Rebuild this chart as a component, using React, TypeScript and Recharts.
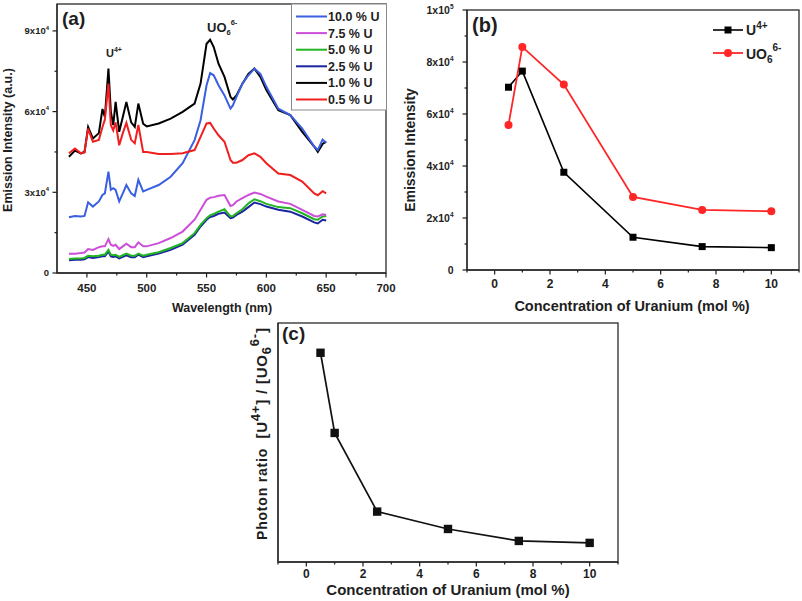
import React from "react";
import { LineChart, Line, XAxis, YAxis } from "recharts";

const FONT = '"Liberation Sans", Arial, Helvetica, sans-serif';
const INK = "#1e1e1e";
const frameLine = { stroke: "#2a2a2a", strokeWidth: 1.3 };

// ---- (a) emission spectra ----
const wavelength = [
  435, 440, 445, 448, 451, 455, 460, 463, 465, 468, 470, 472, 474, 477, 480, 483, 487, 490, 493, 497,
  500, 510, 520, 530, 540, 545, 550, 553, 556, 560, 565, 570, 572, 575, 580, 585, 590, 595, 600, 610,
  620, 630, 640, 643, 647, 650,
];
const u10 = [
  20700, 21200, 21000, 21200, 26300, 24700, 26600, 29000, 29600, 37700, 30900, 31500, 30900, 26600, 29600, 32700, 29600, 28600, 34600, 30300,
  30900, 32700, 35800, 40800, 49400, 56800, 69800, 74300, 73500, 69800, 66000, 61100, 62300, 65500, 70400, 73500, 76000, 74000, 69200, 61100,
  58700, 53700, 47000, 45700, 49600, 48400,
];
const u75 = [
  7200, 7200, 7400, 7600, 8900, 8600, 9600, 9900, 9900, 12600, 10500, 10100, 10500, 8900, 9900, 10900, 9600, 9600, 11400, 9900,
  9900, 11100, 13000, 15400, 19800, 23500, 27200, 28000, 28200, 28700, 29000, 24900, 25200, 26600, 27800, 29000, 29900, 29400, 28400, 26600,
  25700, 23500, 21200, 21000, 21800, 21600,
];
const u50 = [
  5200, 5400, 5400, 5600, 6400, 6200, 6400, 6800, 6800, 8600, 6800, 6600, 6800, 6000, 6600, 7200, 6400, 6400, 7200, 6400,
  6800, 7700, 9300, 11100, 14800, 17900, 20400, 21400, 22000, 22800, 23700, 21000, 21200, 22200, 23700, 25900, 27400, 26700, 25700, 24500,
  24100, 22200, 20000, 19800, 21000, 21200,
];
const u25 = [
  4700, 4900, 4900, 5100, 5900, 5600, 5900, 6200, 6200, 8000, 6200, 6000, 6200, 5400, 6000, 6600, 5900, 5900, 6800, 5900,
  6200, 7200, 8600, 10500, 14200, 17300, 19800, 20800, 21200, 22000, 22500, 20400, 20600, 21600, 22800, 24500, 26200, 25600, 24700, 23500,
  22800, 21000, 18800, 18400, 19800, 19500,
];
const u1 = [
  43200, 45500, 44500, 45000, 54300, 50000, 52000, 61000, 58000, 76000, 60000, 55000, 63600, 52500, 58000, 63600, 56000, 54300, 63000, 55500,
  54500, 55600, 57400, 59900, 63000, 70400, 85200, 86700, 84000, 77800, 72900, 65500, 64500, 66000, 70400, 74000, 76000, 72900, 68000, 60500,
  58700, 52500, 47000, 45000, 48000, 48800,
];
const u05 = [
  44500, 46300, 44500, 44800, 53700, 48800, 49500, 54300, 57000, 70400, 55000, 53000, 56000, 47500, 52000, 55800, 49500, 48200, 55000, 45000,
  45000, 44200, 44200, 44500, 45700, 50600, 55600, 55800, 53700, 51200, 48800, 42000, 41000, 41000, 42000, 43800, 44500, 43200, 40800, 37000,
  36400, 34000, 29600, 28900, 30400, 29600,
];

const spectraSeries = [
  { key: "u10", label: "10.0 % U", color: "#3a5fe0", values: u10 },
  { key: "u75", label: "7.5 % U", color: "#cc4fd8", values: u75 },
  { key: "u50", label: "5.0 % U", color: "#22b422", values: u50 },
  { key: "u25", label: "2.5 % U", color: "#1c25a0", values: u25 },
  { key: "u1", label: "1.0 % U", color: "#000000", values: u1 },
  { key: "u05", label: "0.5 % U", color: "#f01e1e", values: u05 },
];
const drawOrder = ["u25", "u50", "u75", "u1", "u10", "u05"];

const spectraData = wavelength.map((wl, i) => {
  const row: Record<string, number> = { wl };
  spectraSeries.forEach((s) => (row[s.key] = s.values[i]));
  return row;
});

const waveTicks = [450, 475, 500, 525, 550, 575, 600, 625, 650, 675, 700];
const spectraYTicks = [0, 15000, 30000, 45000, 60000, 75000, 90000];

// ---- (b) intensity vs concentration ----
const concentration = [0.5, 1, 2.5, 5, 7.5, 10];
const u4Intensity = [70300, 76500, 37600, 12600, 9000, 8600];
const uo6Intensity = [55800, 85800, 71300, 28100, 23100, 22600];
const intensityData = concentration.map((c, i) => ({ c, u4: u4Intensity[i], uo6: uo6Intensity[i] }));
const concTicks = [-1, 0, 1, 2, 3, 4, 5, 6, 7, 8, 9, 10, 11];
const intensityTicks = [0, 10000, 20000, 30000, 40000, 50000, 60000, 70000, 80000, 90000, 100000];

// ---- (c) photon ratio ----
const photonRatio = [1.253, 0.884, 0.522, 0.442, 0.387, 0.378];
const ratioData = concentration.map((c, i) => ({ c, r: photonRatio[i] }));

function sciParts(v: number) {
  if (v === 0) return { base: "0", exp: "" };
  const exp = Math.floor(Math.log10(v) + 1e-9);
  const mant = Math.round(v / Math.pow(10, exp));
  return { base: `${mant}x10`, exp: String(exp) };
}

const makeXTick = (isMajor: (v: number) => boolean, labelDy: number, fs: number) => (props: any) => {
  const { x, y, payload } = props;
  const v = payload.value as number;
  const major = isMajor(v);
  return (
    <g>
      <line x1={x} y1={y} x2={x} y2={y + (major ? 4.5 : 2.5)} stroke={INK} strokeWidth={1.2} />
      {major && (
        <text x={x} y={y + labelDy} textAnchor="middle" fontSize={fs} fontWeight="bold" fill={INK} fontFamily={FONT}>
          {v}
        </text>
      )}
    </g>
  );
};

const makeYTick = (isMajor: (v: number) => boolean, gap: number, fs: number) => (props: any) => {
  const { x, y, payload } = props;
  const v = payload.value as number;
  const major = isMajor(v);
  const p = sciParts(v);
  return (
    <g>
      <line x1={x - (major ? 4.5 : 2.5)} y1={y} x2={x} y2={y} stroke={INK} strokeWidth={1.2} />
      {major && (
        <text x={x - gap} y={y + fs * 0.36} textAnchor="end" fontSize={fs} fontWeight="bold" fill={INK} fontFamily={FONT}>
          {p.base}
          {p.exp && (
            <tspan fontSize={fs * 0.62} dy={-fs * 0.5}>
              {p.exp}
            </tspan>
          )}
        </text>
      )}
    </g>
  );
};

const txt = { fontFamily: FONT, fontWeight: "bold" as const, fill: INK };

function ChartA() {
  return (
    <LineChart width={400} height={320} data={spectraData} margin={{ top: 4, right: 14, bottom: 0, left: 0 }}>
      <XAxis
        dataKey="wl"
        type="number"
        domain={[425, 700]}
        ticks={waveTicks}
        interval={0}
        tickSize={0}
        tickMargin={0}
        tickLine={false}
        height={47}
        axisLine={frameLine}
        tick={makeXTick((v) => v % 50 === 0, 18.5, 11.5)}
      />
      <YAxis
        type="number"
        domain={[0, 100000]}
        ticks={spectraYTicks}
        interval={0}
        width={57}
        tickSize={0}
        tickMargin={0}
        tickLine={false}
        axisLine={frameLine}
        tick={makeYTick((v) => v % 30000 === 0, 8, 9.5)}
      />
      <rect x={57} y={4} width={329} height={269} fill="none" stroke="#2a2a2a" strokeWidth={1.3} />
      {drawOrder.map((k) => {
        const s = spectraSeries.find((q) => q.key === k)!;
        return (
          <Line key={k} dataKey={k} type="linear" stroke={s.color} strokeWidth={2} dot={false} isAnimationActive={false} />
        );
      })}
      <text x={62} y={25} fontSize={19} {...txt}>(a)</text>
      <text x={106} y={57} fontSize={11} {...txt}>
        U<tspan fontSize={7} dy={-5}>4+</tspan>
      </text>
      <text x={207} y={32} fontSize={13} {...txt}>
        UO<tspan fontSize={7.5} dy={3}>6</tspan>
        <tspan fontSize={7.5} dy={-10}>6-</tspan>
      </text>
      <text x={12} y={140} transform="rotate(-90, 12, 140)" textAnchor="middle" fontSize={12.5} {...txt}>
        Emission Intensity (a.u.)
      </text>
      <text x={222} y={312} textAnchor="middle" fontSize={12.5} {...txt}>
        Wavelength (nm)
      </text>
      <rect x={291.5} y={4} width={95} height={106} fill="#fff" stroke="#8a8a8a" strokeWidth={1} />
      {spectraSeries.map((s, i) => {
        const cy = 16.5 + i * 16.6;
        return (
          <g key={s.key}>
            <line x1={296} y1={cy} x2={327} y2={cy} stroke={s.color} strokeWidth={2} />
            <text x={328} y={cy + 4.5} fontSize={12.5} {...txt}>
              {s.label}
            </text>
          </g>
        );
      })}
    </LineChart>
  );
}

function ChartB() {
  return (
    <LineChart width={402} height={320} data={intensityData} margin={{ top: 10, right: 3, bottom: 0, left: 0 }}>
      <XAxis
        dataKey="c"
        type="number"
        domain={[-1, 11]}
        ticks={concTicks}
        interval={0}
        tickSize={0}
        tickMargin={0}
        tickLine={false}
        height={50}
        axisLine={frameLine}
        tick={makeXTick((v) => v % 2 === 0 && v >= 0, 18, 12)}
      />
      <YAxis
        type="number"
        domain={[0, 100000]}
        ticks={intensityTicks}
        interval={0}
        width={67}
        tickSize={0}
        tickMargin={0}
        tickLine={false}
        axisLine={frameLine}
        tick={makeYTick((v) => v % 20000 === 0, 13.5, 10.5)}
      />
      <rect x={67} y={10} width={332} height={260} fill="none" stroke="#2a2a2a" strokeWidth={1.3} />
      <Line
        dataKey="u4"
        type="linear"
        stroke="#000"
        strokeWidth={1.6}
        isAnimationActive={false}
        dot={(p: any) => <rect key={`u4-${p.index}`} x={p.cx - 3.5} y={p.cy - 3.5} width={7} height={7} fill="#000" />}
      />
      <Line
        dataKey="uo6"
        type="linear"
        stroke="#ff2626"
        strokeWidth={1.8}
        isAnimationActive={false}
        dot={(p: any) => <circle key={`uo6-${p.index}`} cx={p.cx} cy={p.cy} r={4} fill="#ff2626" />}
      />
      <text x={72} y={32} fontSize={20} {...txt}>(b)</text>
      <line x1={313} y1={30} x2={343} y2={30} stroke="#000" strokeWidth={1.6} />
      <rect x={324.5} y={26.5} width={7} height={7} fill="#000" />
      <text x={346} y={35} fontSize={14} {...txt}>
        U<tspan fontSize={10} dy={-6}>4+</tspan>
      </text>
      <line x1={313} y1={53} x2={343} y2={53} stroke="#ff2626" strokeWidth={1.8} />
      <circle cx={328} cy={53} r={4} fill="#ff2626" />
      <text x={346} y={59} fontSize={14} {...txt}>
        UO<tspan fontSize={10} dy={4}>6</tspan>
        <tspan fontSize={10} dy={-12}>6-</tspan>
      </text>
      <text x={15} y={150} transform="rotate(-90, 15, 150)" textAnchor="middle" fontSize={14} {...txt}>
        Emission Intensity
      </text>
      <text x={232} y={311} textAnchor="middle" fontSize={14.5} {...txt}>
        Concentration of Uranium (mol %)
      </text>
    </LineChart>
  );
}

function ChartC() {
  return (
    <LineChart width={450} height={301} data={ratioData} margin={{ top: 23, right: 12, bottom: 0, left: 0 }}>
      <XAxis
        dataKey="c"
        type="number"
        domain={[-1, 11]}
        ticks={concTicks}
        interval={0}
        tickSize={0}
        tickMargin={0}
        tickLine={false}
        height={39}
        axisLine={frameLine}
        tick={makeXTick((v) => v % 2 === 0 && v >= 0, 15.5, 12)}
      />
      <YAxis type="number" domain={[0.29, 1.39]} width={98} tick={false} tickLine={false} axisLine={frameLine} />
      <rect x={98} y={23} width={340} height={239} fill="none" stroke="#2a2a2a" strokeWidth={1.3} />
      <Line
        dataKey="r"
        type="linear"
        stroke="#111"
        strokeWidth={1.7}
        isAnimationActive={false}
        dot={(p: any) => <rect key={`r-${p.index}`} x={p.cx - 4.2} y={p.cy - 4.2} width={8.4} height={8.4} fill="#111" />}
      />
      <text x={102} y={40} fontSize={19} {...txt}>(c)</text>
      <text
        x={87}
        y={134}
        transform="rotate(-90, 87, 134)"
        textAnchor="middle"
        fontSize={14}
        textLength={212}
        lengthAdjust="spacing"
        {...txt}
      >
        Photon ratio{"\u00a0\u00a0"}
        <tspan fontSize={15}>[U</tspan>
        <tspan fontSize={13} dy={-7}>4+</tspan>
        <tspan fontSize={15} dy={7}>] / [UO</tspan>
        <tspan fontSize={13} dy={4}>6</tspan>
        <tspan fontSize={13} dy={-12}>6-</tspan>
        <tspan fontSize={15} dy={8}>]</tspan>
      </text>
      <text x={268} y={295} textAnchor="middle" fontSize={15} {...txt}>
        Concentration of Uranium (mol %)
      </text>
    </LineChart>
  );
}

export default function App() {
  return (
    <div style={{ position: "absolute", left: 0, top: 0, width: 802, height: 601, background: "#fff", overflow: "hidden" }}>
      <div style={{ position: "absolute", left: 0, top: 0 }}>
        <ChartA />
      </div>
      <div style={{ position: "absolute", left: 400, top: 0 }}>
        <ChartB />
      </div>
      <div style={{ position: "absolute", left: 180, top: 300 }}>
        <ChartC />
      </div>
    </div>
  );
}
